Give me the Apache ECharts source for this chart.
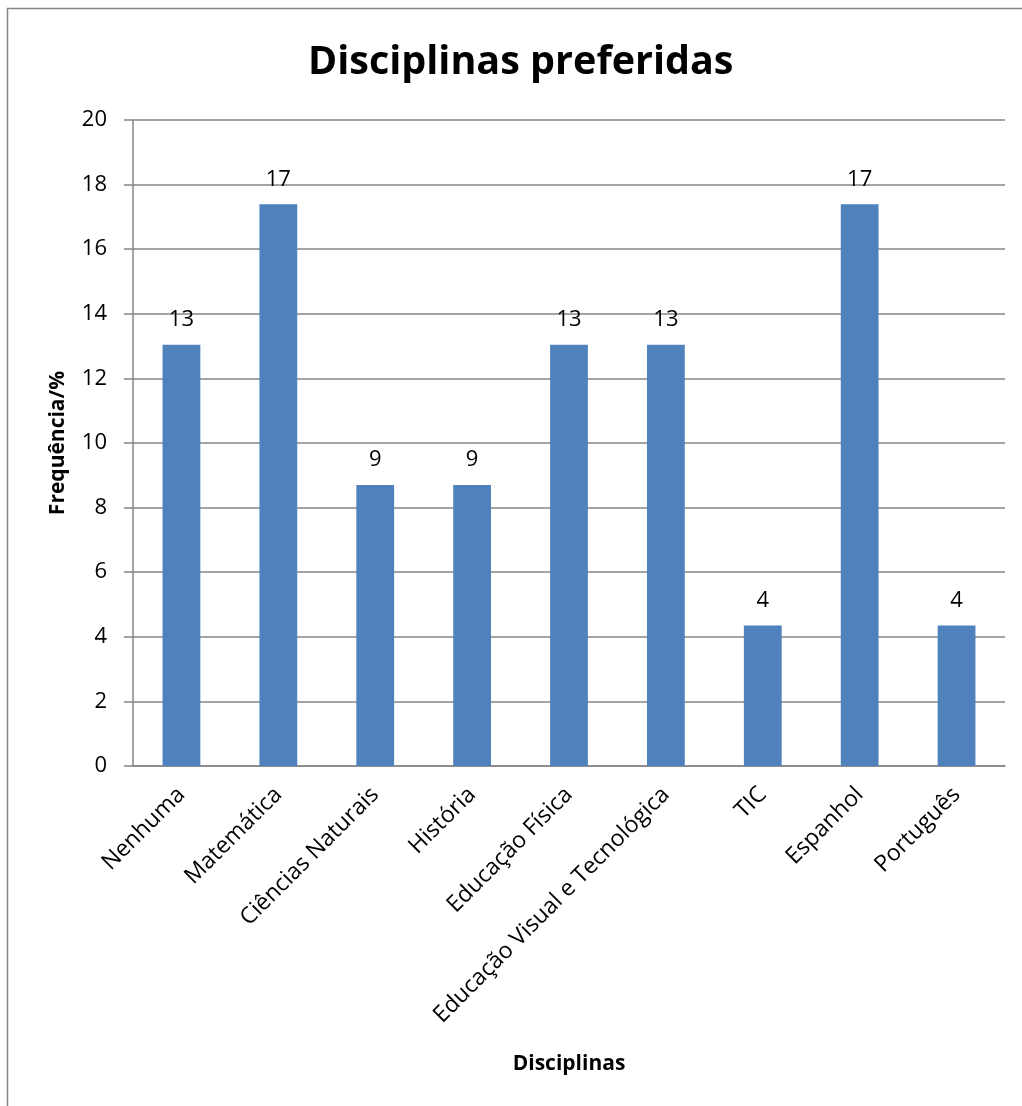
<!DOCTYPE html>
<html><head><meta charset="utf-8">
<script src="https://cdn.jsdelivr.net/npm/echarts@6/dist/echarts.min.js"></script>
<style>html,body{margin:0;padding:0;background:#fff}#c{width:1022px;height:1106px}</style>
</head><body><div id="c"></div>
<script>
const categories = ["Nenhuma","Matemática","Ciências Naturais","História","Educação Física","Educação Visual e Tecnológica","TIC","Espanhol","Português"];
const values = [13.04, 17.39, 8.70, 8.70, 13.04, 13.04, 4.35, 17.39, 4.35];
const yTicks = [0,2,4,6,8,10,12,14,16,18,20];
const F = '"Open Sans", "Liberation Sans", sans-serif';
const chart = echarts.init(document.getElementById('c'));
chart.setOption({
  animation:false,
  graphic:[{type:'rect',shape:{x:7.5,y:8.5,width:1030,height:1110},style:{fill:'none',stroke:'#868686',lineWidth:1.5},silent:true}],
  title:{text:'Disciplinas preferidas',left:303,top:38,
    textStyle:{fontFamily:F,fontWeight:'bold',fontSize:39.5,color:'#000'}},
  grid:{left:133,right:17,top:120,bottom:340,containLabel:false},
  xAxis:{type:'category',data:categories,
    axisLine:{lineStyle:{color:'#868686',width:1.5}},axisTick:{show:false},
    axisLabel:{rotate:45,interval:0,color:'#000',fontFamily:F,fontSize:23,margin:25},
    name:'Disciplinas',nameLocation:'middle',nameGap:288,
    nameTextStyle:{fontFamily:F,fontWeight:'bold',fontSize:21,color:'#000'}},
  yAxis:{type:'value',min:yTicks[0],max:yTicks[yTicks.length-1],interval:2,
    axisLine:{show:true,lineStyle:{color:'#868686',width:1.5}},
    axisTick:{show:true,length:9,lineStyle:{color:'#868686',width:1.5}},
    splitLine:{lineStyle:{color:'#868686',width:1.5}},
    axisLabel:{color:'#000',fontFamily:F,fontSize:22,margin:26},
    name:'Frequência/%',nameLocation:'middle',nameGap:64,
    nameTextStyle:{fontFamily:F,fontWeight:'bold',fontSize:21,color:'#000'}},
  series:[{type:'bar',data:values,barWidth:'39%',
    itemStyle:{color:'#4F81BD'},
    label:{show:true,position:'top',distance:14,color:'#000',fontFamily:F,fontSize:22,
      formatter:p=>Math.round(p.value)}}]
});
</script></body></html>
